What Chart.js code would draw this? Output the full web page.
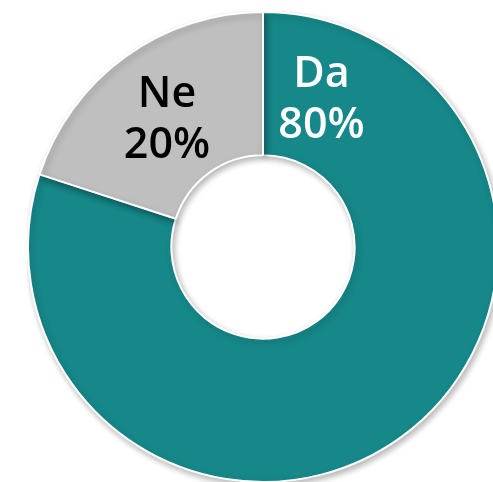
<!DOCTYPE html>
<html>
<head>
<meta charset="utf-8">
<script src="https://cdn.jsdelivr.net/npm/chart.js@4"></script>
<style>
  html, body { margin: 0; padding: 0; background: #fff; overflow: hidden; }
  #boite { position: absolute; left: 27px; top: 11px; width: 472px; height: 472px; }
</style>
</head>
<body>
<div id="boite"><canvas id="graphique" width="472" height="472"></canvas></div>
<script>
// Données du graphique
const categories = ['Da', 'Ne'];
const valeurs = [80, 20];
const couleurs = ['#16888A', '#BFBFBF'];
const couleursTexte = ['#ffffff', '#000000'];

// Ombre légère sous l'anneau
const ombre = {
    id: 'ombre',
    beforeDatasetsDraw(chart) {
        const c = chart.ctx;
        c.save();
        c.shadowColor = 'rgba(0,0,0,0.28)';
        c.shadowBlur = 6;
        c.shadowOffsetX = 2;
        c.shadowOffsetY = 3;
    },
    afterDatasetsDraw(chart) {
        chart.ctx.restore();
    }
};

// Étiquettes "Da 80%" et "Ne 20%" posées sur l'anneau
const etiquettes = {
    id: 'etiquettes',
    afterDraw(chart, args, opts) {
        const c = chart.ctx;
        const arcs = chart.getDatasetMeta(0).data;
        c.save();
        c.font = '600 43px "Open Sans", Lato, sans-serif';
        c.textAlign = 'center';
        c.textBaseline = 'alphabetic';
        arcs.forEach((arc, i) => {
            const p = arc.getProps(['x', 'y', 'startAngle', 'endAngle', 'innerRadius', 'outerRadius'], true);
            // angle médian, ou angle imposé pour la grande part
            let angle = (p.startAngle + p.endAngle) / 2;
            if (opts.angles && opts.angles[i] != null) angle = opts.angles[i] * Math.PI / 180;
            const r = (p.innerRadius + p.outerRadius) / 2;
            const cx = p.x + Math.cos(angle) * r;
            const cy = p.y + Math.sin(angle) * r;
            c.fillStyle = couleursTexte[i];
            c.fillText(categories[i], cx, cy - 8);
            c.fillText(valeurs[i] + '%', cx, cy + 43);
        });
        c.restore();
    }
};

const ctx = document.getElementById('graphique').getContext('2d');
new Chart(ctx, {
    type: 'doughnut',
    data: {
        labels: categories,
        datasets: [{
            data: valeurs,
            backgroundColor: couleurs,
            borderColor: '#ffffff',
            borderWidth: 2
        }]
    },
    options: {
        responsive: false,
        animation: false,
        cutout: '39%',
        layout: { padding: 0 },
        plugins: {
            legend: { display: false },
            tooltip: { enabled: false },
            etiquettes: { angles: [-69, null] }
        }
    },
    plugins: [ombre, etiquettes]
});
</script>
</body>
</html>
